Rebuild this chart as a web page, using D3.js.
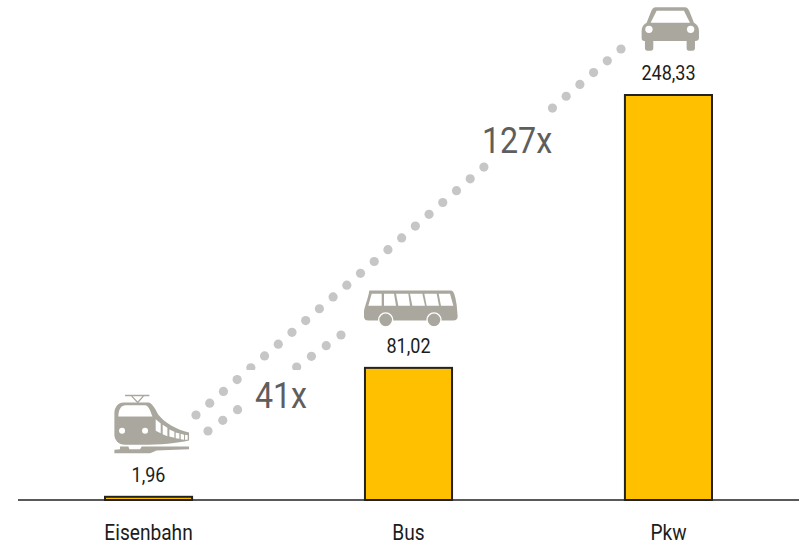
<!DOCTYPE html>
<html lang="de">
<head>
  <meta charset="UTF-8">
  <script src="https://d3js.org/d3.v7.min.js"></script>
  <style>
    html, body { margin: 0; padding: 0; background: #fff; }
    svg { display: block; }
    text { font-family: Roboto, sans-serif; }
    .bar { fill: #ffc000; stroke: #222; stroke-width: 2; }
    .baseline { stroke: #222; stroke-width: 1.6; }
    .dot { fill: #c6c6c6; }
    .icon { fill: #aaa89e; }
    .icon-cut { fill: #fff; }
    .value { font-size: 20px; fill: #1c1c1c; }
    .category { font-size: 22px; fill: #1c1c1c; }
    .factor { font-size: 37px; fill: #5e5e5e; }
  </style>
</head>
<body>
<div id="chart"></div>
<script>
  const categories = ["Eisenbahn", "Bus", "Pkw"];
  const values = [1.96, 81.02, 248.33];
  const valueLabels = ["1,96", "81,02", "248,33"];
  const factorLabels = ["41x", "127x"];

  const width = 799, height = 545;
  const baseY = 500;

  const x = d3.scaleBand().domain(categories).range([105, 712]).paddingInner(0.665).paddingOuter(0);
  const y = d3.scaleLinear().domain([0, 248.33]).range([baseY, 95]);

  const svg = d3.select("#chart").append("svg").attr("width", width).attr("height", height);

  // dotted connectors, drawn first. the white box over them makes the gap for the label
  const connectors = [
    { from: [208, 431], to: [341, 335], steps: 9 },
    { from: [196, 415], to: [621, 49], steps: 31 }
  ];
  connectors.forEach(c => {
    const px = d3.interpolateNumber(c.from[0], c.to[0]);
    const py = d3.interpolateNumber(c.from[1], c.to[1]);
    svg.append("g").selectAll("circle")
      .data(d3.range(c.steps + 1))
      .join("circle")
      .attr("class", "dot")
      .attr("cx", i => px(i / c.steps))
      .attr("cy", i => py(i / c.steps))
      .attr("r", 4.6);
  });

  const factorBoxes = [
    { label: factorLabels[0], x0: 244, x1: 312, y0: 370, y1: 415, lx: 281, ly: 408 },
    { label: factorLabels[1], x0: 488, x1: 547, y0: 113.5, y1: 161.5, lx: 517, ly: 153 }
  ];
  factorBoxes.forEach(b => {
    svg.append("rect").attr("fill", "#fff")
      .attr("x", b.x0).attr("y", b.y0)
      .attr("width", b.x1 - b.x0).attr("height", b.y1 - b.y0);
    svg.append("text").attr("class", "factor")
      .attr("text-anchor", "middle")
      .attr("transform", `translate(${b.lx},${b.ly}) scale(0.87,1)`)
      .text(b.label);
  });

  svg.append("g").selectAll("rect")
    .data(categories)
    .join("rect")
    .attr("class", "bar")
    .attr("x", d => x(d))
    .attr("width", x.bandwidth())
    .attr("y", (d, i) => y(values[i]))
    .attr("height", (d, i) => baseY - y(values[i]));

  svg.append("line").attr("class", "baseline")
    .attr("x1", 18).attr("x2", 799).attr("y1", baseY).attr("y2", baseY);

  categories.forEach((c, i) => {
    const cx = x(c) + x.bandwidth() / 2;
    svg.append("text").attr("class", "value")
      .attr("text-anchor", "middle")
      .attr("transform", `translate(${cx},${y(values[i]) - 15}) scale(0.9,1)`)
      .text(valueLabels[i]);
    svg.append("text").attr("class", "category")
      .attr("text-anchor", "middle")
      .attr("transform", `translate(${cx},540) scale(0.87,1)`)
      .text(c);
  });

  // icons hang off the bar top, paths are in 3x units
  const icon = (name, ox, oy) => {
    const i = categories.indexOf(name);
    return svg.append("g").attr("transform",
      `translate(${x(name) + x.bandwidth() / 2 + ox},${y(values[i]) + oy}) scale(${1 / 3})`);
  };
  const cutPaths = (g, paths) => g.selectAll("path.cut").data(paths).join("path")
    .attr("class", "cut icon-cut").attr("d", d => d);

  // train
  const train = icon("Eisenbahn", -58.5, -117);
  train.append("path").attr("fill", "none").attr("stroke", "#aaa89e").attr("stroke-width", 4)
    .attr("d", "M105,47 L178,47 M125,49 L143,68 L160,49");
  train.append("path").attr("class", "icon")
    .attr("d", "M100,68 L175,68 C185,68 195,85 205,105 C225,130 260,150 297,158 L297,182 C260,190 215,195 150,195 L105,195 C85,195 73,180 73,165 L73,100 C73,82 85,68 100,68 Z");
  train.append("path").attr("class", "icon")
    .attr("d", "M73,210 L90,208 L90,200 L115,200 L118,208 L150,208 L155,200 L297,200 L297,208 L200,212 L180,220 L73,220 Z");
  cutPaths(train, [
    "M85,110 C85,90 92,78 105,76 L165,76 C175,76 182,95 187,110 Z",
    "M197,118 L212,131 L212,160 L197,153 Z",
    "M218,135 L232,144 L232,169 L218,163 Z",
    "M238,149 L253,156 L253,174 L238,170 Z",
    "M257,158 L268,161 L268,177 L257,175 Z",
    "M272,162 L282,165 L282,180 L272,178 Z",
    "M285,165 L293,166 L293,180 L285,180 Z"
  ]);
  train.selectAll("circle.lamp").data([96, 165]).join("circle")
    .attr("class", "lamp icon-cut").attr("cx", d => d).attr("cy", 153).attr("r", 9);

  // bus
  const bus = icon("Bus", -68.5, -98);
  bus.append("path").attr("class", "icon")
    .attr("d", "M88,62 L332,62 C342,62 345,75 350,105 L353,140 C353,148 348,152 340,152 L85,152 C76,152 72,148 72,140 L72,125 C72,115 85,85 88,62 Z");
  cutPaths(bus, [
    "M95,72 L125,72 L125,108 L85,108 Z",
    "M132,72 L162,72 L168,108 L132,108 Z",
    "M168,72 L205,72 L210,108 L175,108 Z",
    "M210,72 L247,72 L255,108 L217,108 Z",
    "M253,72 L290,72 L297,108 L260,108 Z",
    "M296,72 L330,72 L340,108 L303,108 Z"
  ]);
  bus.selectAll("circle.wheel").data([137, 282]).join("circle")
    .attr("class", "wheel icon").attr("cx", d => d).attr("cy", 150).attr("r", 21)
    .attr("stroke", "#fff").attr("stroke-width", 4);

  // car
  const car = icon("Pkw", -68.5, -95);
  car.append("path").attr("class", "icon")
    .attr("d", "M168,22 L254,22 C262,22 266,28 269,35 L282,68 C290,72 297,80 297,92 L297,115 C297,120 293,123 287,123 L285,123 L285,145 C285,150 282,152 278,152 L267,152 C262,152 260,150 260,145 L260,123 L160,123 L160,145 C160,150 157,152 153,152 L142,152 C138,152 135,150 135,145 L135,123 L133,123 C128,123 125,120 125,115 L125,92 C125,80 132,72 140,68 L153,35 C156,28 160,22 168,22 Z");
  cutPaths(car, ["M170,32 L252,32 L270,68 L152,68 Z"]);
  car.selectAll("circle.lamp").data([147, 272]).join("circle")
    .attr("class", "lamp icon-cut").attr("cx", d => d).attr("cy", 88).attr("r", 11);
</script>
</body>
</html>
